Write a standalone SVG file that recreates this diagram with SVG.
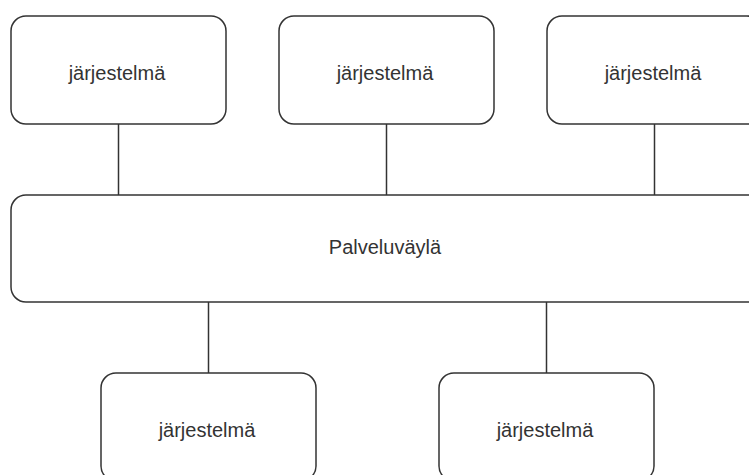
<svg xmlns="http://www.w3.org/2000/svg" width="749" height="475" viewBox="0 0 749 475">
  <style>
    .box { fill: #ffffff; stroke: #333333; stroke-width: 1.5; }
    .lbl { font-family: "Liberation Sans", Arial, Helvetica, sans-serif; font-size: 20px; fill: #333333; text-anchor: middle; }
    .conn { stroke: #333333; stroke-width: 1.5; fill: none; }
  </style>
  <rect width="749" height="475" fill="#ffffff"/>

  <!-- connectors -->
  <g id="connectors">
    <line class="conn" x1="118.5" y1="124" x2="118.5" y2="195"/>
    <line class="conn" x1="386.5" y1="124" x2="386.5" y2="195"/>
    <line class="conn" x1="654.5" y1="124" x2="654.5" y2="195"/>
    <line class="conn" x1="208.5" y1="302" x2="208.5" y2="373"/>
    <line class="conn" x1="546.5" y1="302" x2="546.5" y2="373"/>
  </g>

  <g id="system-top-1">
    <rect class="box" x="11" y="16" width="215" height="108" rx="15" ry="15"/>
    <text class="lbl" x="117" y="80">järjestelmä</text>
  </g>
  <g id="system-top-2">
    <rect class="box" x="279" y="16" width="215" height="108" rx="15" ry="15"/>
    <text class="lbl" x="385" y="80">järjestelmä</text>
  </g>
  <g id="system-top-3">
    <rect class="box" x="547" y="16" width="215" height="108" rx="15" ry="15"/>
    <text class="lbl" x="653" y="80">järjestelmä</text>
  </g>

  <g id="service-bus">
    <rect class="box" x="11" y="195" width="765" height="107" rx="15" ry="15"/>
    <text class="lbl" x="385" y="254">Palveluväylä</text>
  </g>

  <g id="system-bottom-1">
    <rect class="box" x="101" y="373" width="215" height="108" rx="15" ry="15"/>
    <text class="lbl" x="207" y="437">järjestelmä</text>
  </g>
  <g id="system-bottom-2">
    <rect class="box" x="439" y="373" width="215" height="108" rx="15" ry="15"/>
    <text class="lbl" x="545" y="437">järjestelmä</text>
  </g>
</svg>
